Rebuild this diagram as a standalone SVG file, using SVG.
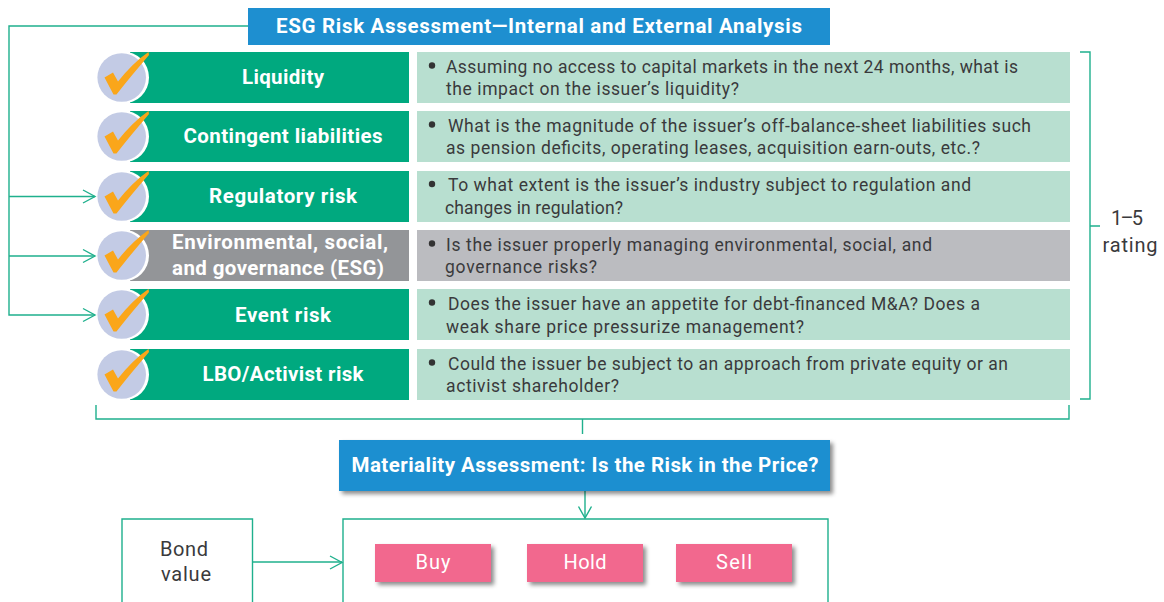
<svg xmlns="http://www.w3.org/2000/svg" width="1164" height="602" viewBox="0 0 1164 602">
<style>
text{font-family:"Roboto","Liberation Sans",sans-serif}
.hd{font-size:20.500px;font-weight:700;fill:#fff;text-anchor:middle}
.lb{font-size:20.500px;font-weight:700;fill:#fff;text-anchor:middle}
.q{font-size:17.500px;fill:#3a3a3c}
.n{font-size:20px;fill:#3a3a3c;text-anchor:middle}
.p{font-size:20px;fill:#fff;text-anchor:middle}
.g{fill:#00a97f}.m{fill:#b8dfd0}.gr{fill:#939598}.lg{fill:#bbbcc0}
.line{fill:none;stroke:#1fb08d;stroke-width:1.4}
.ah{fill:none;stroke:#1fb08d;stroke-width:1.4}
.blue{fill:#1e8fd0}.pink{fill:#f2678e}
.chk{fill:#faa61a}.c{fill:#c3cbe5}
</style>
<defs>
<filter id="sh" x="-10%" y="-20%" width="120%" height="150%"><feDropShadow dx="3" dy="3" stdDeviation="2" flood-color="#000" flood-opacity="0.45"/></filter>
<g id="badge">
<circle cx="123" cy="25.5" r="26" fill="#fff"/>
<circle cx="121.700" cy="25.5" r="24.300" class="c"/>
<path class="chk" d="M104.500 25.5L113 20.500L118 29.500C127 18 137 8 148.500 0L149 3C138 16 126 30 116.500 42.500L113.500 42.500Z"/>
</g>
</defs>
<g id="connectors">
<path class="line" d="M248 26H9V315H95M9 196.500H95M9 256H95"/>
<path class="ah" d="M83 190L95 196.500L83 203M83 249.500L95 256L83 262.500M83 308.500L95 315L83 321.500"/>
<path class="line" d="M96 405V419H1069V405M582.500 419V434"/>
<path class="line" d="M1080 52H1090V399H1080M1090 226H1100"/>
<path class="line" d="M585 491V518"/>
<path class="ah" d="M578.500 506.500L585 518L591.500 506.500"/>
<path class="line" d="M253 562H342"/>
<path class="ah" d="M330 556L342 562.500L330 569"/>
</g>
<g id="header"><rect x="248" y="8" width="582" height="37" class="blue"/><text class="hd" x="539" y="33" textLength="526">ESG Risk Assessment—Internal and External Analysis</text></g>
<g id="row-liquidity"><rect x="130" y="52" width="279" height="51" class="g"/><use href="#badge" y="52"/><text class="lb" x="283" y="84" textLength="82">Liquidity</text>
<rect x="417" y="52" width="653" height="51" class="m"/><circle cx="432" cy="65.500" r="3.200" fill="#333"/><text class="q" x="446" y="73" textLength="572">Assuming no access to capital markets in the next 24 months, what is</text><text class="q" x="446" y="95" textLength="293">the impact on the issuer’s liquidity?</text></g>
<g id="row-contingent"><rect x="130" y="111" width="279" height="51" class="g"/><use href="#badge" y="111"/><text class="lb" x="283" y="143" textLength="199">Contingent liabilities</text>
<rect x="417" y="111" width="653" height="51" class="m"/><circle cx="432" cy="124.500" r="3.200" fill="#333"/><text class="q" x="448" y="132" textLength="583">What is the magnitude of the issuer’s off-balance-sheet liabilities such</text><text class="q" x="446" y="154" textLength="534">as pension deficits, operating leases, acquisition earn-outs, etc.?</text></g>
<g id="row-regulatory"><rect x="130" y="171" width="279" height="51" class="g"/><use href="#badge" y="171"/><text class="lb" x="283" y="203" textLength="148">Regulatory risk</text>
<rect x="417" y="171" width="653" height="51" class="m"/><circle cx="432" cy="184" r="3.200" fill="#333"/><text class="q" x="448" y="191" textLength="523">To what extent is the issuer’s industry subject to regulation and</text><text class="q" x="445" y="214" textLength="178">changes in regulation?</text></g>
<g id="row-esg"><rect x="130" y="230" width="279" height="51" class="gr"/><use href="#badge" y="230"/><text class="lb" x="280" y="249" textLength="216">Environmental, social,</text><text class="lb" x="278" y="275" textLength="212">and governance (ESG)</text>
<rect x="417" y="230" width="653" height="51" class="lg"/><circle cx="432" cy="243.500" r="3.200" fill="#333"/><text class="q" x="446" y="251" textLength="486">Is the issuer properly managing environmental, social, and</text><text class="q" x="445" y="273" textLength="152">governance risks?</text></g>
<g id="row-event"><rect x="130" y="289" width="279" height="51" class="g"/><use href="#badge" y="289"/><text class="lb" x="283" y="322" textLength="96">Event risk</text>
<rect x="417" y="289" width="653" height="51" class="m"/><circle cx="432" cy="302.500" r="3.200" fill="#333"/><text class="q" x="448" y="310" textLength="532">Does the issuer have an appetite for debt-financed M&amp;A? Does a</text><text class="q" x="446" y="333" textLength="358">weak share price pressurize management?</text></g>
<g id="row-lbo"><rect x="130" y="349" width="279" height="51" class="g"/><use href="#badge" y="349"/><text class="lb" x="283" y="381" textLength="161">LBO/Activist risk</text>
<rect x="417" y="349" width="653" height="51" class="m"/><circle cx="432" cy="362.500" r="3.200" fill="#333"/><text class="q" x="448" y="370" textLength="560">Could the issuer be subject to an approach from private equity or an</text><text class="q" x="446" y="392" textLength="173">activist shareholder?</text></g>
<g id="rating"><text class="n" x="1127" y="225" textLength="32">1–5</text><text class="n" x="1130" y="252" textLength="55">rating</text></g>
<g id="materiality"><rect x="339" y="440" width="491" height="51" class="blue" filter="url(#sh)"/><text class="hd" x="585" y="472" textLength="467">Materiality Assessment: Is the Risk in the Price?</text></g>
<g id="bond"><path class="line" d="M122 602V519H252.500V602"/><text class="n" x="184" y="556" textLength="48">Bond</text><text class="n" x="186" y="581" textLength="50">value</text></g>
<g id="action-box"><path class="line" d="M343 602V519H828V602"/></g>
<g id="buy"><rect x="375" y="544" width="116" height="38" class="pink" filter="url(#sh)"/><text class="p" x="433" y="569" textLength="35">Buy</text></g>
<g id="hold"><rect x="527" y="544" width="116" height="38" class="pink" filter="url(#sh)"/><text class="p" x="585" y="569" textLength="43">Hold</text></g>
<g id="sell"><rect x="676" y="544" width="116" height="38" class="pink" filter="url(#sh)"/><text class="p" x="734" y="569" textLength="36">Sell</text></g>
</svg>
